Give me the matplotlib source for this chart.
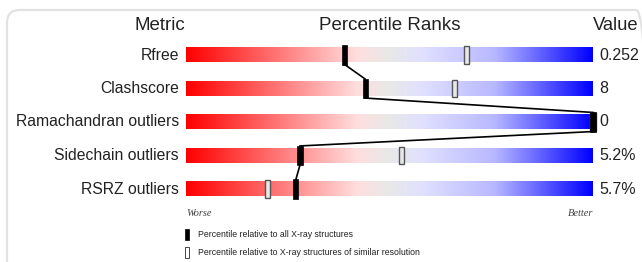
import numpy as np
import matplotlib
matplotlib.use("Agg")
import matplotlib.pyplot as plt
from matplotlib.colors import LinearSegmentedColormap
from matplotlib.patches import Rectangle, FancyBboxPatch

metrics = ["Rfree", "Clashscore", "Ramachandran outliers", "Sidechain outliers", "RSRZ outliers"]
values = ["0.252", "8", "0", "5.2%", "5.7%"]
pct_all = [39, 44, 100, 28, 27]        # filled markers
pct_similar = [69, 66, 100, 53, 20]    # open markers

plt.rcParams["font.family"] = ["Liberation Sans", "DejaVu Sans"]

fig = plt.figure(figsize=(6.42, 2.62), dpi=100)
W, H = 642, 262

# rounded grey frame, running off the right and bottom edges
frame = FancyBboxPatch((7 / W, -0.2), 1.0, 1.2 - 10 / H, transform=fig.transFigure,
                       boxstyle="round,pad=0,rounding_size=0.02", fc="none",
                       ec="#e2e2e2", lw=1.6, mutation_aspect=W / H, zorder=-1)
fig.patches.append(frame)

# axes covering the slider area: x in percentile, y in row index
ax = fig.add_axes([186 / W, 1 - 205.75 / H, 407 / W, 167.5 / H])
ax.axis("off")

cmap = LinearSegmentedColormap.from_list("slider", [
    (0.0, (1.0, 0.0, 0.0)),
    (0.42, (1.0, 0.87, 0.87)),
    (0.5, (0.91, 0.91, 0.91)),
    (0.58, (0.88, 0.88, 1.0)),
    (0.76, (0.72, 0.72, 1.0)),
    (1.0, (0.0, 0.0, 1.0)),
])
grad = np.linspace(0, 1, 256)[None, :]

bar_h = 0.42
mark_h = 0.57
mark_w = 1.25
for i, name in enumerate(metrics):
    ax.imshow(grad, cmap=cmap, aspect="auto", interpolation="bilinear",
              extent=(0, 100, i + bar_h / 2, i - bar_h / 2))
    ax.text(-1.7, i, name, ha="right", va="center", fontsize=11.3, color="#222")
    ax.text(101.5, i, values[i], ha="left", va="center", fontsize=11.5, color="#222")
    ax.add_patch(Rectangle((pct_similar[i] - mark_w / 2, i - 0.5 * mark_h + 0.03), mark_w, mark_h - 0.06,
                           fc="#e8e8e8", ec="#555", lw=1.0, clip_on=False, zorder=3))

ax.set_ylim(4.5, -0.5)
ax.set_xlim(0, 100)

# line joining the filled markers, bottom of one to top of the next
for i in range(len(metrics) - 1):
    ax.plot([pct_all[i], pct_all[i + 1]], [i + mark_h / 2, i + 1 - mark_h / 2],
            color="black", lw=1.2, clip_on=False, zorder=4)
for i in range(len(metrics)):
    ax.add_patch(Rectangle((pct_all[i] - mark_w / 2, i - mark_h / 2), mark_w, mark_h,
                           fc="black", ec="black", lw=0.5, clip_on=False, zorder=5))

# headers
ax.text(-6.3, -0.88, "Metric", ha="center", va="center", fontsize=13.5, color="#222")
ax.text(50, -0.88, "Percentile Ranks", ha="center", va="center", fontsize=13.5, color="#222")
ax.text(105.6, -0.88, "Value", ha="center", va="center", fontsize=13.2, color="#222")

# worse / better
ax.text(0, 4.72, "Worse", ha="left", va="center", fontsize=7.5, style="italic",
        family="Liberation Serif", color="#444")
ax.text(100, 4.72, "Better", ha="right", va="center", fontsize=7.5, style="italic",
        family="Liberation Serif", color="#444")

# legend
ax.add_patch(Rectangle((-0.2, 5.2), 0.9, 0.33, fc="black", ec="black", lw=0.5, clip_on=False))
ax.text(2.9, 5.37, "Percentile relative to all X-ray structures", ha="left", va="center",
        fontsize=6.3, color="#222")
ax.add_patch(Rectangle((-0.2, 5.74), 0.9, 0.33, fc="white", ec="#444", lw=0.7, clip_on=False))
ax.text(2.9, 5.91, "Percentile relative to X-ray structures of similar resolution", ha="left",
        va="center", fontsize=6.3, color="#222")

fig.savefig("out.png", dpi=100)
